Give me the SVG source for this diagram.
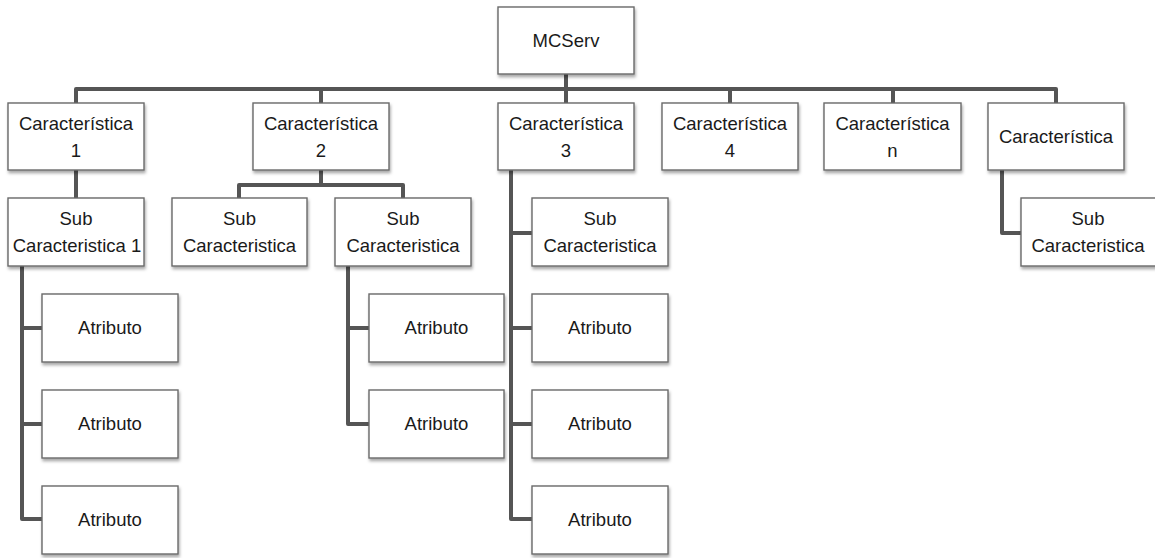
<svg xmlns="http://www.w3.org/2000/svg" width="1155" height="558" viewBox="0 0 1155 558">
<defs>
<filter id="sh" x="-10%" y="-10%" width="125%" height="135%">
<feDropShadow dx="1" dy="2.5" stdDeviation="1.5" flood-color="#000" flood-opacity="0.35"/>
</filter>
</defs>
<style>
.box{fill:#fff;stroke:#6a6a6a;stroke-width:1.4;filter:url(#sh)}
.t{font-family:"Liberation Sans",Arial,sans-serif;font-size:18.5px;fill:#1a1a1a;text-anchor:middle}
.c{fill:none;stroke:#555;stroke-width:4;stroke-linejoin:round}
</style>
<rect width="1155" height="558" fill="#fff"/>
<g id="connectors">
<path class="c" d="M566,74 V89"/>
<path class="c" d="M76,103 V89 H1056 V103"/>
<path class="c" d="M321,89 V103 M566,89 V103 M730,89 V103 M893,89 V103"/>
<path class="c" d="M76,170 V198"/>
<path class="c" d="M321,170 V185 M239,198 V185 H403 V198"/>
<path class="c" d="M22,266 V519 H42 M22,328 H42 M22,424 H42"/>
<path class="c" d="M348,266 V424 H369 M348,328 H369"/>
<path class="c" d="M511,170 V519 H532 M511,233 H532 M511,328 H532 M511,424 H532"/>
<path class="c" d="M1002,170 V233 H1021"/>
</g>
<g id="mcserv"><rect class="box" x="498" y="7" width="136" height="67"/><text class="t" x="566" y="47">MCServ</text></g>
<g id="car1"><rect class="box" x="8" y="103" width="136" height="67"/><text class="t" x="76" y="130">Característica</text><text class="t" x="76" y="157">1</text></g>
<g id="car2"><rect class="box" x="253" y="103" width="136" height="67"/><text class="t" x="321" y="130">Característica</text><text class="t" x="321" y="157">2</text></g>
<g id="car3"><rect class="box" x="498" y="103" width="136" height="67"/><text class="t" x="566" y="130">Característica</text><text class="t" x="566" y="157">3</text></g>
<g id="car4"><rect class="box" x="662" y="103" width="136" height="67"/><text class="t" x="730" y="130">Característica</text><text class="t" x="730" y="157">4</text></g>
<g id="carn"><rect class="box" x="824" y="103" width="137" height="67"/><text class="t" x="892.5" y="130">Característica</text><text class="t" x="892.5" y="157">n</text></g>
<g id="car"><rect class="box" x="988" y="103" width="136" height="67"/><text class="t" x="1056" y="143">Característica</text></g>
<g id="sub1"><rect class="box" x="8" y="198" width="136" height="68"/><text class="t" x="76" y="225">Sub</text><text class="t" x="77" y="252">Caracteristica 1</text></g>
<g id="sub2a"><rect class="box" x="172" y="198" width="135" height="68"/><text class="t" x="239.5" y="225">Sub</text><text class="t" x="239.5" y="252">Caracteristica</text></g>
<g id="sub2b"><rect class="box" x="335" y="198" width="136" height="68"/><text class="t" x="403" y="225">Sub</text><text class="t" x="403" y="252">Caracteristica</text></g>
<g id="sub3"><rect class="box" x="532" y="198" width="136" height="68"/><text class="t" x="600" y="225">Sub</text><text class="t" x="600" y="252">Caracteristica</text></g>
<g id="subn"><rect class="box" x="1021" y="198" width="135" height="68"/><text class="t" x="1088" y="225">Sub</text><text class="t" x="1088" y="252">Caracteristica</text></g>
<g id="a1"><rect class="box" x="42" y="294" width="136" height="68"/><text class="t" x="110" y="334">Atributo</text></g>
<g id="a2"><rect class="box" x="42" y="390" width="136" height="68"/><text class="t" x="110" y="430">Atributo</text></g>
<g id="a3"><rect class="box" x="42" y="486" width="136" height="68"/><text class="t" x="110" y="526">Atributo</text></g>
<g id="a4"><rect class="box" x="369" y="294" width="135" height="68"/><text class="t" x="436.5" y="334">Atributo</text></g>
<g id="a5"><rect class="box" x="369" y="390" width="135" height="68"/><text class="t" x="436.5" y="430">Atributo</text></g>
<g id="a6"><rect class="box" x="532" y="294" width="136" height="68"/><text class="t" x="600" y="334">Atributo</text></g>
<g id="a7"><rect class="box" x="532" y="390" width="136" height="68"/><text class="t" x="600" y="430">Atributo</text></g>
<g id="a8"><rect class="box" x="532" y="486" width="136" height="68"/><text class="t" x="600" y="526">Atributo</text></g>
</svg>
